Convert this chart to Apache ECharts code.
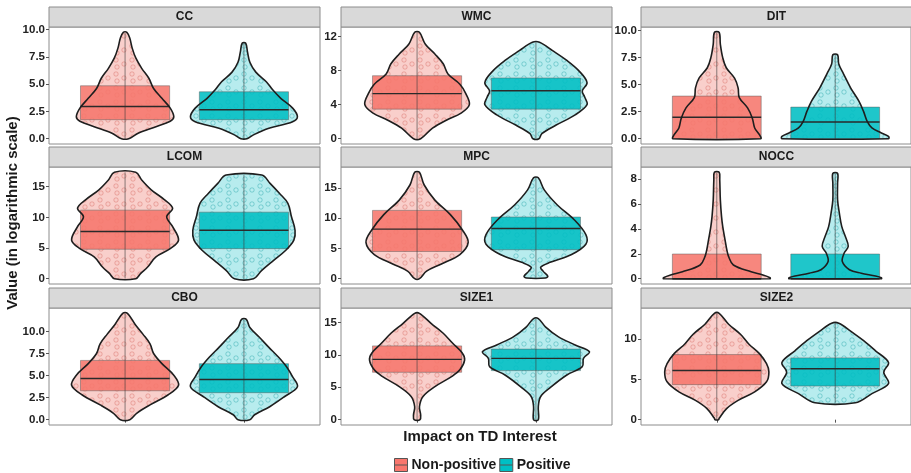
<!DOCTYPE html>
<html><head><meta charset="utf-8">
<script src="https://cdn.jsdelivr.net/npm/echarts@6/dist/echarts.min.js"></script>
<style>html,body{margin:0;padding:0;background:#fff}#c{width:911px;height:473px}</style>
</head><body><div id="c"></div>
<script>
const metrics = ['CC','WMC','DIT','LCOM','MPC','NOCC','CBO','SIZE1','SIZE2'];
const groups = ['Non-positive','Positive'];

// violin outlines: [value, half-width in category units], bottom to top
const ccNonPos = [[0,0.03],[0.5,0.11],[1.1,0.26],[1.6,0.38],[2.0,0.41],[2.8,0.38],[3.7,0.31],[4.6,0.24],[5.54,0.2],[6.45,0.14],[7.4,0.09],[8.3,0.06],[9.2,0.04],[9.75,0.015]];
const ccPos = [[0,0.025],[0.35,0.08],[0.95,0.21],[1.55,0.41],[2.0,0.45],[2.8,0.41],[3.7,0.31],[4.5,0.24],[5.2,0.19],[6.1,0.1],[7.0,0.05],[7.95,0.03],[8.75,0.015]];
const wmcNonPos = [[0,0.03],[1.24,0.13],[2.2,0.25],[3.0,0.37],[4.0,0.44],[5.3,0.41],[6.4,0.36],[7.6,0.26],[8.8,0.22],[9.95,0.15],[11.1,0.07],[12.5,0.02]];
const wmcPos = [[0,0.025],[0.6,0.05],[1.6,0.17],[2.8,0.33],[4.0,0.43],[4.9,0.41],[5.6,0.39],[6.6,0.43],[8.0,0.36],[9.2,0.26],[10.35,0.14],[11.33,0.03]];
const ditNonPos = [[0,0.37],[0.37,0.36],[0.99,0.32],[1.9,0.3],[2.85,0.26],[3.8,0.19],[4.7,0.18],[5.6,0.15],[6.56,0.08],[7.5,0.05],[8.75,0.03],[9.84,0.02]];
const ditPos = [[0,0.45],[0.22,0.45],[0.53,0.39],[1.0,0.31],[1.6,0.27],[2.5,0.24],[3.47,0.2],[4.7,0.13],[6.0,0.07],[6.9,0.03],[7.76,0.02]];
const lcomNonPos = [[0,0.09],[0.82,0.13],[1.9,0.19],[3.55,0.26],[4.9,0.38],[6.3,0.45],[8.5,0.4],[10.1,0.35],[11.5,0.4],[12.9,0.33],[14.5,0.22],[16.1,0.14],[17.35,0.09]];
const lcomPos = [[0,0.08],[1.36,0.15],[3.0,0.25],[4.6,0.35],[6.3,0.42],[7.9,0.43],[10.1,0.4],[12.3,0.37],[13.9,0.3],[15.55,0.22],[16.9,0.15]];
const mpcNonPos = [[0,0.02],[1.25,0.08],[2.4,0.2],[4.0,0.36],[6.0,0.43],[8.1,0.38],[10.6,0.28],[13.0,0.15],[15.5,0.06],[17.6,0.02]];
const mpcPos = [[0.1,0.08],[0.4,0.1],[1.25,0.06],[1.9,0.04],[2.7,0.12],[4.0,0.3],[5.7,0.42],[7.3,0.42],[9.8,0.32],[12.2,0.18],[14.7,0.07],[16.7,0.02]];
const noccNonPos = [[0,0.45],[0.08,0.45],[0.3,0.39],[0.55,0.29],[1.1,0.14],[1.77,0.1],[2.3,0.085],[3.1,0.07],[4.2,0.05],[5.0,0.04],[6.33,0.03],[7.93,0.025],[8.54,0.02]];
const noccPos = [[0,0.39],[0.08,0.39],[0.22,0.34],[0.44,0.22],[0.72,0.12],[1.37,0.06],[2.04,0.075],[2.6,0.11],[3.4,0.085],[4.2,0.055],[5.26,0.035],[6.33,0.02],[7.66,0.02],[8.46,0.02]];
const cboNonPos = [[0,0.04],[0.75,0.1],[1.68,0.21],[2.8,0.36],[3.9,0.45],[5.05,0.41],[6.36,0.31],[7.5,0.24],[8.6,0.21],[9.7,0.15],[10.8,0.085],[12.06,0.02]];
const cboPos = [[0,0.05],[0.56,0.09],[1.5,0.22],[2.6,0.34],[3.73,0.45],[4.85,0.41],[5.97,0.36],[7.1,0.29],[8.2,0.21],[9.34,0.13],[10.45,0.05],[11.38,0.02]];
const size1NonPos = [[0,0.025],[0.76,0.03],[2.0,0.02],[3.58,0.05],[5.1,0.15],[6.65,0.29],[7.7,0.36],[9.2,0.4],[10.3,0.38],[11.8,0.3],[13.35,0.22],[14.85,0.12],[16.43,0.02]];
const size1Pos = [[0,0.02],[2.0,0.02],[3.58,0.04],[5.1,0.13],[6.9,0.26],[8.2,0.39],[9.47,0.4],[10.5,0.45],[11.55,0.33],[12.8,0.19],[14.35,0.08],[15.62,0.02]];
const size2NonPos = [[0,0.015],[0.17,0.02],[1.4,0.085],[2.4,0.18],[3.45,0.32],[4.7,0.42],[5.93,0.44],[6.95,0.42],[8.2,0.36],[9.4,0.27],[10.6,0.2],[11.85,0.1],[13.2,0.02]];
const size2Pos = [[2.1,0.17],[3.24,0.31],[4.47,0.45],[5.9,0.41],[7.1,0.45],[8.55,0.34],[9.8,0.24],[11.0,0.13],[11.98,0.03]];

// box stats per group: [lower whisker, Q1, median, Q3, upper whisker]
const ccBox = [[0,1.74,2.95,4.85,9.75],[0,1.74,2.65,4.3,8.75]];
const wmcBox = [[0,3.47,5.3,7.4,12.5],[0,3.47,5.63,7.13,11.33]];
const ditBox = [[0,0,1.98,3.94,9.84],[0,0,1.55,2.92,7.76]];
const lcomBox = [[0,4.8,7.69,11.18,17.35],[0,4.9,7.9,10.85,16.9]];
const mpcBox = [[0,4.5,8.2,11.3,17.6],[0.1,4.8,8.3,10.2,16.7]];
const noccBox = [[0,0,0,1.98,8.54],[0,0,0,1.98,8.46]];
const cboBox = [[0,3.28,4.67,6.72,12.06],[0,3.06,4.55,6.35,11.38]];
const size1Box = [[0,7.32,9.32,11.4,16.43],[0,7.58,9.47,10.9,15.62]];
const size2Box = [[0,4.35,6.1,8.08,13.2],[2.1,4.18,6.32,7.67,11.98]];

// y tick labels
const ccTicks = ['0.0','2.5','5.0','7.5','10.0'];
const wmcTicks = ['0','4','8','12'];
const ditTicks = ['0.0','2.5','5.0','7.5','10.0'];
const lcomTicks = ['0','5','10','15'];
const mpcTicks = ['0','5','10','15'];
const noccTicks = ['0','2','4','6','8'];
const cboTicks = ['0.0','2.5','5.0','7.5','10.0'];
const size1Ticks = ['0','5','10','15'];
const size2Ticks = ['0','5','10'];

const profiles = [[ccNonPos,ccPos],[wmcNonPos,wmcPos],[ditNonPos,ditPos],[lcomNonPos,lcomPos],[mpcNonPos,mpcPos],[noccNonPos,noccPos],[cboNonPos,cboPos],[size1NonPos,size1Pos],[size2NonPos,size2Pos]];
const boxes = [ccBox,wmcBox,ditBox,lcomBox,mpcBox,noccBox,cboBox,size1Box,size2Box];
const ticks = [ccTicks,wmcTicks,ditTicks,lcomTicks,mpcTicks,noccTicks,cboTicks,size1Ticks,size2Ticks];

const FONT = '"Liberation Sans", Arial, sans-serif';
const colLeft = [49, 341, 641], rowTop = [27, 167, 308], W = 271, H = 117, STRIP = 20;
const boxColors = ['#F8766D', '#00BFC4'];
const violinFills = ['#F9CFCB', '#B7ECEE'];
const boxFills = ['rgba(246,118,108,0.88)', 'rgba(0,190,195,0.88)'];

// texture tile imitating the jittered point markers (purely a fill style)
function texture(stroke, fill) {
  const cv = document.createElement('canvas');
  cv.width = 16; cv.height = 14;
  const ctx = cv.getContext('2d');
  ctx.strokeStyle = stroke; ctx.fillStyle = fill; ctx.lineWidth = 0.8;
  [[4, 4], [12, 8], [5, 11]].forEach(p => {
    ctx.beginPath(); ctx.arc(p[0], p[1], 2.2, 0, Math.PI * 2); ctx.fill(); ctx.stroke();
  });
  return { image: cv, repeat: 'repeat' };
}
const textures = [texture('rgba(214,110,102,0.55)', 'rgba(250,200,196,0.5)'), texture('rgba(40,165,170,0.55)', 'rgba(190,240,242,0.5)')];

function makeRender(profile, box, gi) {
  return function (params, api) {
    if (params.dataIndex !== 0) return null;
    const cx = gi + 1;
    const right = profile.map(d => api.coord([cx + d[1], d[0]]));
    const left = profile.slice().reverse().map(d => api.coord([cx - d[1], d[0]]));
    const pts = right.concat(left);
    const bw = 0.375;
    const a = api.coord([cx - bw, box[1]]);
    const b = api.coord([cx + bw, box[3]]);
    const m1 = api.coord([cx - bw, box[2]]);
    const m2 = api.coord([cx + bw, box[2]]);
    const w1 = api.coord([cx, box[0]]);
    const w2 = api.coord([cx, box[4]]);
    return {
      type: 'group',
      children: [
        { type: 'polygon', shape: { points: pts, smooth: 0.35 }, style: { fill: violinFills[gi], stroke: null } },
        { type: 'polygon', shape: { points: pts, smooth: 0.35 }, style: { fill: textures[gi], stroke: null } },
        { type: 'rect', shape: { x: a[0], y: b[1], width: b[0] - a[0], height: Math.max(a[1] - b[1], 0.5) },
          style: { fill: boxFills[gi], stroke: 'rgba(90,90,90,0.6)', lineWidth: 0.8 } },
        { type: 'line', shape: { x1: w1[0], y1: w1[1], x2: w2[0], y2: w2[1] }, style: { stroke: 'rgba(60,60,60,0.75)', lineWidth: 0.8 } },
        { type: 'line', shape: { x1: m1[0], y1: m1[1], x2: m2[0], y2: m2[1] }, style: { stroke: '#2a2a2a', lineWidth: 1.4 } },
        { type: 'polygon', shape: { points: pts, smooth: 0.35 }, style: { fill: 'none', stroke: '#1e1e1e', lineWidth: 1.6 } }
      ]
    };
  };
}

const option = {
  animation: false,
  backgroundColor: '#fff',
  grid: [], xAxis: [], yAxis: [], series: [], graphic: [],
  legend: {
    data: groups, left: 389, top: 453, itemWidth: 13, itemHeight: 13, itemGap: 3,
    icon: 'path://M0,0L12,0L12,12L0,12Z M0,6L12,6',
    itemStyle: { borderColor: '#555', borderWidth: 1 },
    textStyle: { fontFamily: FONT, fontWeight: 'bold', fontSize: 14, color: '#1a1a1a', padding: [0, 0, 0, -1] }
  }
};

metrics.forEach((name, i) => {
  const r = Math.floor(i / 3), c = i % 3;
  const left = colLeft[c], top = rowTop[r];
  let M = 0;
  profiles[i].forEach(p => p.forEach(d => { if (d[0] > M) M = d[0]; }));
  const tv = ticks[i].map(Number);
  option.grid.push({ left: left, top: top, width: W, height: H, show: true, borderColor: '#8c8c8c', borderWidth: 1, backgroundColor: '#fff' });
  option.xAxis.push({
    type: 'value', gridIndex: i, min: 0.36, max: 2.64,
    axisLine: { show: false }, axisLabel: { show: false }, splitLine: { show: false },
    axisTick: { show: r === 2, customValues: [1, 2], length: 3, lineStyle: { color: '#555' } }
  });
  option.yAxis.push({
    type: 'value', gridIndex: i, min: -0.05 * M, max: 1.05 * M,
    axisLine: { show: false }, splitLine: { show: false },
    axisTick: { show: true, customValues: tv, length: 3, lineStyle: { color: '#555' } },
    axisLabel: {
      customValues: tv, margin: 4, fontFamily: FONT, fontWeight: 'bold', fontSize: 11.5, color: '#222',
      formatter: v => { const k = tv.indexOf(v); return k >= 0 ? ticks[i][k] : ''; }
    }
  });
  groups.forEach((g, gi) => {
    option.series.push({
      type: 'custom', name: g, xAxisIndex: i, yAxisIndex: i,
      itemStyle: { color: boxColors[gi] },
      data: profiles[i][gi].map(d => [gi + 1, d[0]]),
      renderItem: makeRender(profiles[i][gi], boxes[i][gi], gi),
      clip: false, silent: true
    });
  });
  option.graphic.push({
    type: 'rect', shape: { x: left, y: top - STRIP, width: W, height: STRIP },
    style: { fill: '#D9D9D9', stroke: '#8c8c8c', lineWidth: 1 }, z: 10
  });
  option.graphic.push({
    type: 'text', x: left + W / 2, y: top - STRIP / 2,
    style: { text: name, fill: '#1a1a1a', font: 'bold 12px ' + FONT, textAlign: 'center', textVerticalAlign: 'middle' }, z: 11
  });
});

option.graphic.push({
  type: 'text', x: 13, y: 213, rotation: Math.PI / 2,
  style: { text: 'Value (in logarithmic scale)', fill: '#1a1a1a', font: 'bold 15px ' + FONT, textAlign: 'center', textVerticalAlign: 'middle' }
});
option.graphic.push({
  type: 'text', x: 480, y: 437,
  style: { text: 'Impact on TD Interest', fill: '#1a1a1a', font: 'bold 15px ' + FONT, textAlign: 'center', textVerticalAlign: 'middle' }
});

const chart = echarts.init(document.getElementById('c'), null, { renderer: 'canvas' });
chart.setOption(option);
</script>
</body></html>
